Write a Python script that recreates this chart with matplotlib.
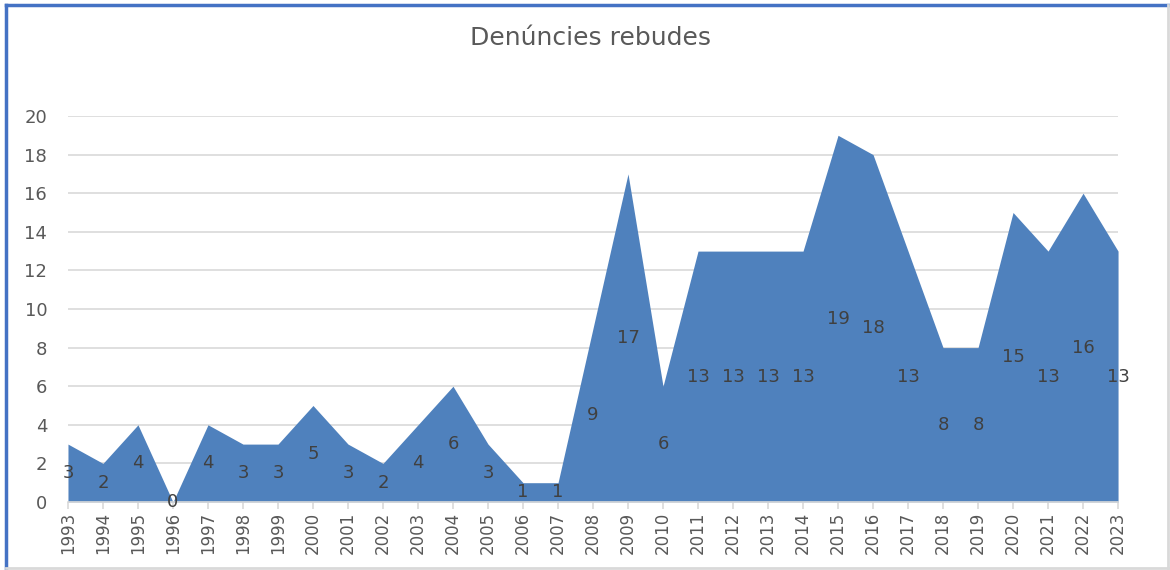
import matplotlib
matplotlib.use("Agg")
import matplotlib.pyplot as plt

# ---------- Data ----------
years = list(range(1993, 2024))
complaints = [3, 2, 4, 0, 4, 3, 3, 5, 3, 2, 4, 6, 3, 1, 1, 9, 17, 6,
              13, 13, 13, 13, 19, 18, 13, 8, 8, 15, 13, 16, 13]
title = "Denúncies rebudes"

fill_color = "#4F81BD"
label_color = "#404040"
axis_text = "#595959"

fig = plt.figure(figsize=(11.7, 5.7), dpi=100)
ax = fig.add_axes([0.0581, 0.1193, 0.8975, 0.6772])

ax.fill_between(years, complaints, 0, color=fill_color, linewidth=0, zorder=2)

# data labels in the middle of the area
for x, v in zip(years, complaints):
    ax.text(x, v / 2, str(v), ha="center", va="center", fontsize=13,
            color=label_color, zorder=3)

ax.set_xlim(years[0], years[-1])
ax.set_ylim(0, 20)
ax.set_yticks(range(0, 21, 2))
ax.set_xticks(years)
ax.set_xticklabels([str(y) for y in years], rotation=90,
                   fontfamily=["Liberation Sans Narrow", "DejaVu Sans"])
ax.tick_params(axis="x", colors="#d9d9d9", labelcolor=axis_text,
               labelsize=12, length=5, width=1.2, pad=2)
ax.tick_params(axis="y", length=0, labelcolor=axis_text, labelsize=13, pad=15)
ax.grid(axis="y", color="#d9d9d9", linewidth=1.2, zorder=0)
for side in ["top", "right", "left"]:
    ax.spines[side].set_visible(False)
ax.spines["bottom"].set_color("#d9d9d9")
ax.spines["bottom"].set_linewidth(1.2)

fig.text(0.5044, 0.933, title, ha="center", va="center", fontsize=18,
         color=axis_text)

# chart frame (blue top/left, grey right/bottom)
fig.add_artist(plt.Line2D([0.005, 0.998], [0.991, 0.991], color="#4472C4",
                          linewidth=2.5, transform=fig.transFigure))
fig.add_artist(plt.Line2D([0.005, 0.005], [0.003, 0.991], color="#4472C4",
                          linewidth=2.5, transform=fig.transFigure))
fig.add_artist(plt.Line2D([0.998, 0.998], [0.003, 0.991], color="#d9d9d9",
                          linewidth=2, transform=fig.transFigure))
fig.add_artist(plt.Line2D([0.005, 0.998], [0.003, 0.003], color="#d9d9d9",
                          linewidth=2, transform=fig.transFigure))

plt.savefig("out.png", dpi=100)
